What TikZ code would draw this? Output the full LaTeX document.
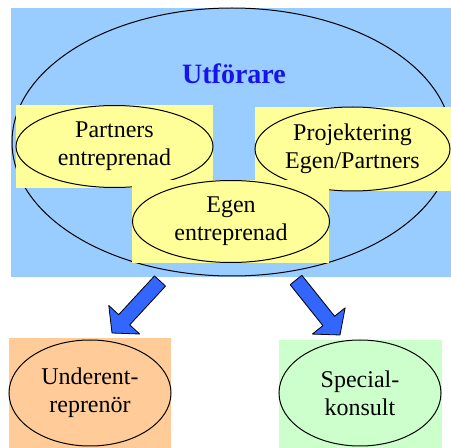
\documentclass[tikz,border=0pt]{standalone}
\usepackage{fontspec}
\setmainfont{Liberation Serif}
\usetikzlibrary{shapes.geometric,calc}

\definecolor{skyblue}{RGB}{153,204,255}
\definecolor{paleyellow}{RGB}{255,255,153}
\definecolor{paleorange}{RGB}{255,204,153}
\definecolor{palegreen}{RGB}{204,255,204}
\definecolor{arrowblue}{RGB}{51,102,255}
\definecolor{titleblue}{RGB}{20,20,235}

\tikzset{
    oval/.style={ellipse, draw=black, line width=1pt, inner sep=0pt, align=center,
                 font={\fontsize{24}{28}\selectfont}},
    fatarrow/.style={fill=arrowblue, draw=black, line width=0.8pt, line join=round}
}

% thick block arrow from #1 to #2
\newcommand\fatarrow[2]{%
    \coordinate (h) at ($(#2)!18pt!(#1)$);
    \filldraw[fatarrow] ($(#1)!7.5pt!90:(#2)$) -- ($(h)!7.5pt!90:(#2)$)
        -- ($(h)!21pt!90:(#2)$) -- (#2) -- ($(h)!21pt!-90:(#2)$)
        -- ($(h)!7.5pt!-90:(#2)$) -- ($(#1)!7.5pt!-90:(#2)$) -- cycle;}

\begin{document}
\begin{tikzpicture}[x=1pt, y=1pt]
    \useasboundingbox (0,0) rectangle (451,448);

    % utforare
    \fill[skyblue] (11,171) rectangle (451,440);
    \node[ellipse, draw=black, line width=1pt, minimum width=440pt, minimum height=268pt] (utf) at (232,306) {};
    \node[font={\fontsize{28}{32}\selectfont\bfseries}, text=titleblue] (title) at (234,374) {Utförare};

    \fill[paleyellow] (16,260) rectangle (213,343);
    \node[oval, minimum width=197pt, minimum height=82pt] (partner) at (114.5,301.5) {Partners\\entreprenad};

    \fill[paleyellow] (255,257) rectangle (451,341);
    \node[oval, minimum width=195pt, minimum height=84pt] (proj) at (352.5,299) {Projektering\\Egen/Partners};

    \fill[paleyellow] (132,185) rectangle (329,268);
    \node[oval, minimum width=197pt, minimum height=82pt] (egen) at (231,226.5) {Egen\\entreprenad};

    % underleverantorer
    \fill[paleorange] (9,0) rectangle (171,110);
    \node[oval, minimum width=162pt, minimum height=106pt] (under) at (90,55) {Underent-\\reprenör};

    \fill[palegreen] (279,0) rectangle (442,108);
    \node[oval, minimum width=162pt, minimum height=106pt] (spec) at (360,55) {Special-\\konsult};

    \coordinate (a1) at (160,167);
    \coordinate (a2) at (112,115);
    \coordinate (b1) at (296,168);
    \coordinate (b2) at (340,113);
    \fatarrow{a1}{a2}
    \fatarrow{b1}{b2}
\end{tikzpicture}
\end{document}
